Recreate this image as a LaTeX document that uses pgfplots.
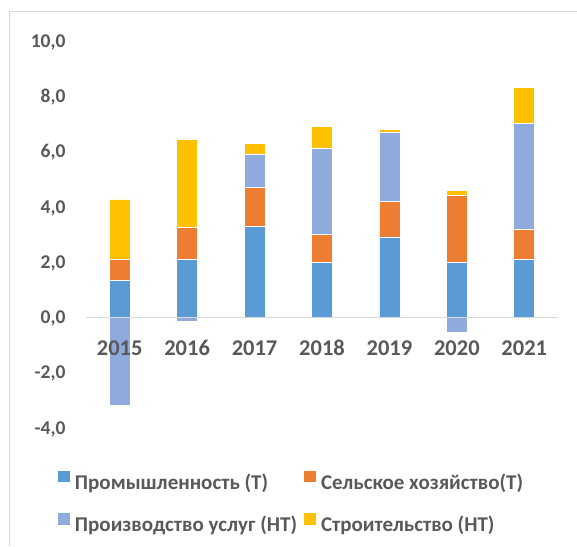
\documentclass[border=0pt]{standalone}
\usepackage{pgfplots}
\pgfplotsset{compat=1.18}
\usepackage{fontspec}
\setmainfont{Carlito}
\definecolor{cBlue}{HTML}{5B9BD5}
\definecolor{cOrange}{HTML}{ED7D31}
\definecolor{cServ}{HTML}{8FAADC}
\definecolor{cYellow}{HTML}{FFC000}
\definecolor{cText}{HTML}{595959}
\definecolor{cLine}{HTML}{D9D9D9}
\begin{document}
\begin{tikzpicture}
\path[use as bounding box] (-86pt,-118pt) rectangle (491pt,428pt);
\pgfplotsset{common/.style={
  scale only axis, width=472pt, height=387pt,
  xmin=-0.5, xmax=6.5, ymin=-4, ymax=10,
  bar width=21pt,
  axis line style={draw=none},
  major tick length=0pt,
}}
\begin{axis}[common,
  ybar stacked,
  xtick=\empty,
  ytick={-4,-2,0,2,4,6,8,10},
  yticklabel style={anchor=base east, inner sep=0pt, xshift=-20.3pt, yshift=-6.2pt, font=\fontsize{19.5}{23}\selectfont\bfseries, text=cText},
  /pgf/number format/.cd, fixed, fixed zerofill, precision=1, use comma, assume math mode=true, /pgfplots/.cd,
  legend columns=2,
  legend cell align=left,
  legend image code/.code={\fill[#1,draw=none] (0pt,1.7pt) rectangle (11.7pt,13.4pt);},
  legend style={draw=none, fill=none, at={(-0.0587,-0.1105)}, anchor=north west,
    font=\fontsize{21}{25}\selectfont\bfseries, text=cText,
    inner sep=0pt, outer sep=0pt, row sep=20.3pt,
    nodes={inner sep=0pt, text height=14pt, text depth=4pt},
    /tikz/every odd column/.append style={column sep=5pt},
    /tikz/every even column/.append style={column sep=7.3pt}},
]
\addplot[fill=cBlue, draw=white, line width=0.6pt] coordinates {(0,1.34) (1,2.11) (2,3.29) (3,1.99) (4,2.91) (5,1.99) (6,2.09)};
\addplot[fill=cOrange, draw=white, line width=0.6pt] coordinates {(0,0.76) (1,1.14) (2,1.41) (3,1.00) (4,1.30) (5,2.41) (6,1.11)};
\addplot[fill=cServ, draw=white, line width=0.6pt] coordinates {(0,0) (1,0) (2,1.21) (3,3.12) (4,2.50) (5,0) (6,3.81)};
\addplot[fill=cYellow, draw=white, line width=0.6pt] coordinates {(0,2.19) (1,3.21) (2,0.39) (3,0.80) (4,0.10) (5,0.19) (6,1.32)};
\legend{Промышленность (Т), Сельское хозяйство(Т), Производство услуг (НТ), Строительство (НТ)}
\end{axis}
\begin{axis}[common, ybar, bar shift=0pt, axis on top,
  xtick={0,1,2,3,4,5,6},
  xticklabels={2015,2016,2017,2018,2019,2020,2021},
  xticklabel style={anchor=center, yshift=80pt, font=\fontsize{22.5}{27}\selectfont\bfseries, text=cText},
  ytick=\empty]
\addplot[fill=cServ, draw=white, line width=0.6pt] coordinates {(0,-3.19) (1,-0.13) (5,-0.52)};
\draw[cLine, line width=1.5pt] (axis cs:-0.5,0) -- (axis cs:6.5,0);
\end{axis}
\draw[cLine, line width=1pt] (-76.5pt,-118pt) -- (-76.5pt,416.5pt) -- (491pt,416.5pt);
\end{tikzpicture}
\end{document}
